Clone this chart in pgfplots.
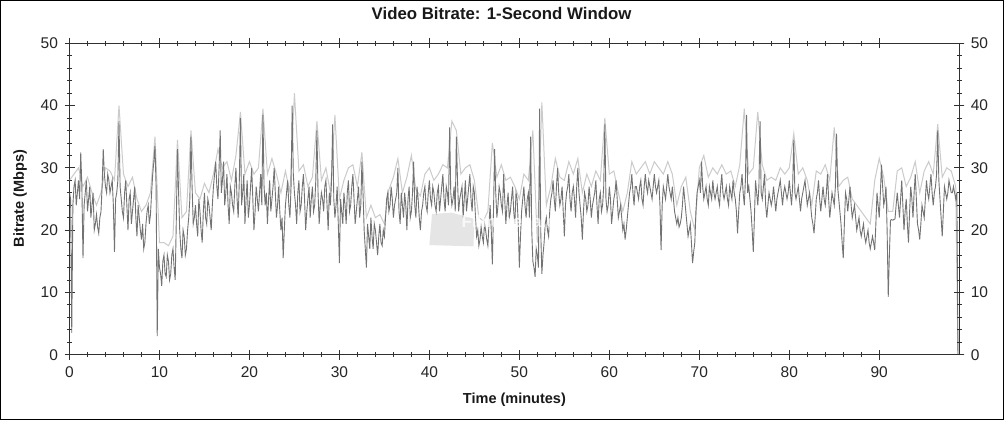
\documentclass[border=0pt]{standalone}
\usepackage{fontspec}
\setmainfont{Liberation Sans}
\usepackage{pgfplots}
\usepackage{pgfplotstable}
\pgfplotsset{compat=1.18}
\definecolor{darkser}{HTML}{737373}
\definecolor{lightser}{HTML}{CBCBCB}
\definecolor{axcol}{HTML}{303030}

\pgfplotstableread[row sep=\\]{
x y\\
0.00 26\\ 0.125 25\\ 0.25 3.5\\ 0.375 24\\ 0.50 27\\ 0.625 28\\ 0.75 24\\ 0.875 26\\ 1.00 28\\ 1.125 25\\ 1.25 32.5\\ 1.375 27\\ 1.50 15.5\\ 1.625 24\\ 1.75 26\\ 1.875 28\\
2.00 23\\ 2.125 25\\ 2.25 27\\ 2.375 22\\ 2.50 24\\ 2.625 26\\ 2.75 20\\ 2.875 21\\ 3.00 22.5\\ 3.125 20.5\\ 3.25 19.5\\ 3.375 22\\ 3.50 23\\ 3.625 27\\ 3.75 33\\ 3.875 29\\
4.00 27\\ 4.125 26\\ 4.25 29\\ 4.375 28\\ 4.50 26\\ 4.625 27\\ 4.75 28\\ 4.875 24\\ 5.00 16.5\\ 5.125 25\\ 5.25 26\\ 5.375 28\\ 5.50 37.5\\ 5.625 27\\ 5.75 25\\ 5.875 23\\
6.00 22\\ 6.125 26\\ 6.25 28\\ 6.375 24\\ 6.50 20\\ 6.625 25\\ 6.75 26\\ 6.875 21\\ 7.00 23\\ 7.125 25\\ 7.25 27\\ 7.375 22\\ 7.50 19\\ 7.625 24\\ 7.75 22\\ 7.875 20\\
8.00 18.5\\ 8.125 21\\ 8.25 17\\ 8.375 18\\ 8.50 21\\ 8.625 23\\ 8.75 24\\ 8.875 21\\ 9.00 22.5\\ 9.125 26\\ 9.25 29\\ 9.375 31\\ 9.50 33.5\\ 9.625 27\\ 9.75 3\\ 9.875 17\\
10.00 14\\ 10.125 13\\ 10.25 11\\ 10.375 15\\ 10.50 16\\ 10.625 13\\ 10.75 12.5\\ 10.875 16\\ 11.00 15\\ 11.125 12\\ 11.25 13\\ 11.375 16\\ 11.50 17\\ 11.625 14\\ 11.75 12\\ 11.875 22\\
12.00 33\\ 12.125 26\\ 12.25 20\\ 12.375 17\\ 12.50 15.5\\ 12.625 20\\ 12.75 19\\ 12.875 16\\ 13.00 17\\ 13.125 20\\ 13.25 22\\ 13.375 25\\ 13.50 35\\ 13.625 27\\ 13.75 21\\ 13.875 22\\
14.00 24\\ 14.125 21\\ 14.25 19\\ 14.375 25\\ 14.50 23\\ 14.625 20\\ 14.75 18\\ 14.875 23\\ 15.00 26\\ 15.125 22\\ 15.25 21\\ 15.375 25\\ 15.50 24\\ 15.625 22\\ 15.75 20\\ 15.875 24\\
16.00 27\\ 16.125 29\\ 16.25 31\\ 16.375 27\\ 16.50 25\\ 16.625 30\\ 16.75 36\\ 16.875 26\\ 17.00 28\\ 17.125 31\\ 17.25 24\\ 17.375 26\\ 17.50 29\\ 17.625 24\\ 17.75 21\\ 17.875 27\\
18.00 26\\ 18.125 24\\ 18.25 23\\ 18.375 27\\ 18.50 30\\ 18.625 25\\ 18.75 22\\ 18.875 28\\ 19.00 38\\ 19.125 24\\ 19.25 26\\ 19.375 29\\ 19.50 21\\ 19.625 25\\ 19.75 28\\ 19.875 22\\
20.00 24\\ 20.125 27\\ 20.25 30\\ 20.375 25\\ 20.50 20\\ 20.625 23\\ 20.75 27\\ 20.875 25\\ 21.00 23\\ 21.125 26\\ 21.25 29\\ 21.375 24\\ 21.50 38.5\\ 21.625 27\\ 21.75 24\\ 21.875 26\\
22.00 21\\ 22.125 25\\ 22.25 28\\ 22.375 23\\ 22.50 25\\ 22.625 27\\ 22.75 30\\ 22.875 26\\ 23.00 22\\ 23.125 24\\ 23.25 27\\ 23.375 23\\ 23.50 20\\ 23.625 22\\ 23.75 15.5\\ 23.875 20\\
24.00 24\\ 24.125 26\\ 24.25 28\\ 24.375 24\\ 24.50 22\\ 24.625 27\\ 24.75 40\\ 24.875 29\\ 25.00 26\\ 25.125 24\\ 25.25 21\\ 25.375 26\\ 25.50 28\\ 25.625 23\\ 25.75 24\\ 25.875 27\\
26.00 29\\ 26.125 25\\ 26.25 20\\ 26.375 23\\ 26.50 25\\ 26.625 27\\ 26.75 22\\ 26.875 25\\ 27.00 27\\ 27.125 23\\ 27.25 24\\ 27.375 28\\ 27.50 36\\ 27.625 26\\ 27.75 21\\ 27.875 24\\
28.00 26\\ 28.125 25\\ 28.25 23\\ 28.375 27\\ 28.50 28\\ 28.625 24\\ 28.75 20\\ 28.875 26\\ 29.00 24\\ 29.125 28\\ 29.25 37\\ 29.375 25\\ 29.50 22\\ 29.625 24\\ 29.75 27\\ 29.875 21\\
30.00 14.7\\ 30.125 25\\ 30.25 23\\ 30.375 21\\ 30.50 26\\ 30.625 24\\ 30.75 21\\ 30.875 26\\ 31.00 28\\ 31.125 23\\ 31.25 24\\ 31.375 27\\ 31.50 29\\ 31.625 25\\ 31.75 21\\ 31.875 23\\
32.00 25\\ 32.125 27\\ 32.25 22\\ 32.375 24\\ 32.50 31\\ 32.625 26\\ 32.75 20\\ 32.875 17\\ 33.00 14\\ 33.125 21\\ 33.25 19\\ 33.375 17\\ 33.50 22\\ 33.625 19\\ 33.75 17\\ 33.875 21\\
34.00 20\\ 34.125 18\\ 34.25 16\\ 34.375 19\\ 34.50 21\\ 34.625 18\\ 34.75 17.5\\ 34.875 20\\ 35.00 19\\ 35.125 22\\ 35.25 25\\ 35.375 26\\ 35.50 23\\ 35.625 24\\ 35.75 27\\ 35.875 25\\
36.00 22\\ 36.125 24\\ 36.25 25\\ 36.375 26\\ 36.50 30\\ 36.625 23\\ 36.75 21\\ 36.875 26\\ 37.00 24\\ 37.125 22\\ 37.25 26\\ 37.375 24\\ 37.50 20\\ 37.625 25\\ 37.75 27\\ 37.875 22\\
38.00 23\\ 38.125 26\\ 38.25 31\\ 38.375 24\\ 38.50 22\\ 38.625 27\\ 38.75 25\\ 38.875 22\\ 39.00 20\\ 39.125 23\\ 39.25 24\\ 39.375 26\\ 39.50 27\\ 39.625 24\\ 39.75 23\\ 39.875 26\\
40.00 28\\ 40.125 25\\ 40.25 24\\ 40.375 27\\ 40.50 26\\ 40.625 24\\ 40.75 23\\ 40.875 26\\ 41.00 27\\ 41.125 23\\ 41.25 25\\ 41.375 27\\ 41.50 29\\ 41.625 25\\ 41.75 23\\ 41.875 27\\
42.00 26\\ 42.125 24\\ 42.25 36.5\\ 42.375 26\\ 42.50 24\\ 42.625 25\\ 42.75 27\\ 42.875 23\\ 43.00 35\\ 43.125 28\\ 43.25 23\\ 43.375 25\\ 43.50 26\\ 43.625 27\\ 43.75 22\\ 43.875 25\\
44.00 28\\ 44.125 23\\ 44.25 25\\ 44.375 27\\ 44.50 29\\ 44.625 25\\ 44.75 23\\ 44.875 27\\ 45.00 26\\ 45.125 22\\ 45.25 19\\ 45.375 20\\ 45.50 17.5\\ 45.625 18.5\\ 45.75 20.5\\ 45.875 19\\
46.00 18\\ 46.125 21\\ 46.25 20\\ 46.375 18.5\\ 46.50 17.5\\ 46.625 21\\ 46.75 24\\ 46.875 20\\ 47.00 14.5\\ 47.125 23\\ 47.25 33\\ 47.375 26\\ 47.50 22\\ 47.625 24\\ 47.75 27\\ 47.875 26\\
48.00 24\\ 48.125 23\\ 48.25 29\\ 48.375 25\\ 48.50 21\\ 48.625 24\\ 48.75 26\\ 48.875 22\\ 49.00 23\\ 49.125 25\\ 49.25 27\\ 49.375 23\\ 49.50 21\\ 49.625 26\\ 49.75 25\\ 49.875 21\\
50.00 14\\ 50.125 19\\ 50.25 23\\ 50.375 25\\ 50.50 27\\ 50.625 24\\ 50.75 22\\ 50.875 25\\ 51.00 26\\ 51.125 22\\ 51.25 35\\ 51.375 20\\ 51.50 15\\ 51.625 14\\ 51.75 12.5\\ 51.875 17\\
52.00 16\\ 52.125 14\\ 52.25 39.5\\ 52.375 20\\ 52.50 13\\ 52.625 16\\ 52.75 18\\ 52.875 21\\ 53.00 22\\ 53.125 20\\ 53.25 19\\ 53.375 23\\ 53.50 25\\ 53.625 26\\ 53.75 28\\ 53.875 25\\
54.00 23\\ 54.125 27\\ 54.25 30\\ 54.375 26\\ 54.50 24\\ 54.625 25\\ 54.75 27\\ 54.875 23\\ 55.00 19\\ 55.125 24\\ 55.25 26\\ 55.375 27\\ 55.50 29\\ 55.625 25\\ 55.75 23\\ 55.875 26\\
56.00 27\\ 56.125 25\\ 56.25 22\\ 56.375 27\\ 56.50 30\\ 56.625 26\\ 56.75 24\\ 56.875 22\\ 57.00 18.5\\ 57.125 23\\ 57.25 26\\ 57.375 25\\ 57.50 23\\ 57.625 24\\ 57.75 27\\ 57.875 25\\
58.00 22\\ 58.125 24\\ 58.25 25\\ 58.375 26\\ 58.50 28\\ 58.625 24\\ 58.75 21\\ 58.875 25\\ 59.00 26\\ 59.125 23\\ 59.25 24\\ 59.375 27\\ 59.50 37\\ 59.625 25\\ 59.75 23\\ 59.875 24\\
60.00 27\\ 60.125 25\\ 60.25 21\\ 60.375 23\\ 60.50 25\\ 60.625 26\\ 60.75 28\\ 60.875 25\\ 61.00 22\\ 61.125 23\\ 61.25 24\\ 61.375 22\\ 61.50 20\\ 61.625 21\\ 61.75 18.5\\ 61.875 20\\
62.00 22\\ 62.125 24\\ 62.25 26\\ 62.375 27\\ 62.50 29\\ 62.625 26\\ 62.75 24\\ 62.875 27\\ 63.00 27\\ 63.125 26\\ 63.25 25\\ 63.375 27\\ 63.50 28\\ 63.625 25\\ 63.75 24\\ 63.875 27\\
64.00 29\\ 64.125 27\\ 64.25 26\\ 64.375 28\\ 64.50 27\\ 64.625 26\\ 64.75 25\\ 64.875 27\\ 65.00 29\\ 65.125 27\\ 65.25 26\\ 65.375 27\\ 65.50 28\\ 65.625 24\\ 65.75 16.8\\ 65.875 24\\
66.00 27\\ 66.125 26\\ 66.25 25\\ 66.375 27\\ 66.50 29\\ 66.625 27\\ 66.75 26\\ 66.875 25\\ 67.00 27\\ 67.125 25\\ 67.25 23\\ 67.375 22\\ 67.50 21\\ 67.625 22\\ 67.75 20.5\\ 67.875 21\\
68.00 22\\ 68.125 24\\ 68.25 27\\ 68.375 25\\ 68.50 23\\ 68.625 21\\ 68.75 19\\ 68.875 20\\ 69.00 21\\ 69.125 18\\ 69.25 14.7\\ 69.375 16.5\\ 69.50 18\\ 69.625 23\\ 69.75 26\\ 69.875 27\\
70.00 28\\ 70.125 26\\ 70.25 31\\ 70.375 27\\ 70.50 25\\ 70.625 26\\ 70.75 27\\ 70.875 25\\ 71.00 24\\ 71.125 27\\ 71.25 26\\ 71.375 25\\ 71.50 28\\ 71.625 26\\ 71.75 25\\ 71.875 26\\
72.00 27\\ 72.125 25\\ 72.25 24\\ 72.375 27\\ 72.50 29\\ 72.625 26\\ 72.75 25\\ 72.875 26\\ 73.00 27\\ 73.125 25\\ 73.25 24\\ 73.375 27\\ 73.50 26\\ 73.625 25\\ 73.75 28\\ 73.875 26\\
74.00 25\\ 74.125 23\\ 74.25 19.5\\ 74.375 23\\ 74.50 26\\ 74.625 27\\ 74.75 29\\ 74.875 26\\ 75.00 24\\ 75.125 28\\ 75.25 38.5\\ 75.375 26\\ 75.50 27\\ 75.625 25\\ 75.75 23\\ 75.875 20\\
76.00 16.5\\ 76.125 22\\ 76.25 28\\ 76.375 26\\ 76.50 24\\ 76.625 27\\ 76.75 37.5\\ 76.875 26\\ 77.00 25\\ 77.125 27\\ 77.25 29\\ 77.375 24\\ 77.50 22\\ 77.625 24\\ 77.75 26\\ 77.875 25\\
78.00 24\\ 78.125 25\\ 78.25 27\\ 78.375 25\\ 78.50 23\\ 78.625 25\\ 78.75 26\\ 78.875 27\\ 79.00 28\\ 79.125 26\\ 79.25 24\\ 79.375 26\\ 79.50 27\\ 79.625 26\\ 79.75 25\\ 79.875 26\\
80.00 28\\ 80.125 26\\ 80.25 24\\ 80.375 27\\ 80.50 34.5\\ 80.625 26\\ 80.75 25\\ 80.875 26\\ 81.00 27\\ 81.125 25\\ 81.25 23\\ 81.375 25\\ 81.50 26\\ 81.625 27\\ 81.75 28\\ 81.875 26\\
82.00 24\\ 82.125 25\\ 82.25 26\\ 82.375 24\\ 82.50 22\\ 82.625 21\\ 82.75 19.5\\ 82.875 22\\ 83.00 25\\ 83.125 26\\ 83.25 28\\ 83.375 25\\ 83.50 23\\ 83.625 25\\ 83.75 27\\ 83.875 25\\
84.00 24\\ 84.125 26\\ 84.25 29\\ 84.375 25\\ 84.50 22\\ 84.625 24\\ 84.75 26\\ 84.875 25\\ 85.00 24\\ 85.125 27\\ 85.25 35.5\\ 85.375 27\\ 85.50 25\\ 85.625 23\\ 85.75 21\\ 85.875 18\\
86.00 15.5\\ 86.125 21\\ 86.25 26\\ 86.375 25\\ 86.50 23\\ 86.625 25\\ 86.75 27\\ 86.875 24\\ 87.00 22\\ 87.125 23\\ 87.25 24\\ 87.375 22\\ 87.50 20\\ 87.625 21\\ 87.75 22\\ 87.875 20\\
88.00 19\\ 88.125 20\\ 88.25 21\\ 88.375 19\\ 88.50 18\\ 88.625 19\\ 88.75 20\\ 88.875 18\\ 89.00 17\\ 89.125 18\\ 89.25 19\\ 89.375 18\\ 89.50 16.8\\ 89.625 21\\ 89.75 26\\ 89.875 24\\
90.00 22\\ 90.125 26\\ 90.25 30.5\\ 90.375 27\\ 90.50 24\\ 90.625 25\\ 90.75 27\\ 90.875 20\\ 91.00 9.3\\ 91.125 16\\ 91.25 21.6\\ 91.375 21.7\\ 91.50 21.6\\ 91.625 21.7\\ 91.75 21.8\\ 91.875 24\\
92.00 26\\ 92.125 24\\ 92.25 22\\ 92.375 25\\ 92.50 28\\ 92.625 24\\ 92.75 20\\ 92.875 23\\ 93.00 25\\ 93.125 21\\ 93.25 18\\ 93.375 23\\ 93.50 27\\ 93.625 25\\ 93.75 22\\ 93.875 26\\
94.00 29\\ 94.125 25\\ 94.25 21\\ 94.375 20\\ 94.50 18.5\\ 94.625 21\\ 94.75 24\\ 94.875 23\\ 95.00 22\\ 95.125 25\\ 95.25 28\\ 95.375 26\\ 95.50 25\\ 95.625 27\\ 95.75 29\\ 95.875 26\\
96.00 24\\ 96.125 26\\ 96.25 27\\ 96.375 29\\ 96.50 36\\ 96.625 28\\ 96.75 25\\ 96.875 22\\ 97.00 19\\ 97.125 23\\ 97.25 27\\ 97.375 26\\ 97.50 25\\ 97.625 26\\ 97.75 28\\ 97.875 27\\
98.00 26\\ 98.125 26\\ 98.25 27\\ 98.375 26\\ 98.50 25\\ 98.625 26\\ 98.75 0\\
}\darkdata

\pgfplotstableread[row sep=\\]{
x y\\
0 28\\ 0.5 29\\ 1 30\\ 1.5 27\\ 2 28.5\\ 2.5 26\\ 3 24\\ 3.5 26\\ 4 30\\ 4.5 29.5\\
5 28\\ 5.5 40\\ 6 29\\ 6.5 27\\ 7 28.5\\ 7.5 25\\ 8 23\\ 8.5 24\\ 9 26\\ 9.5 35\\
10 18\\ 10.5 18\\ 11 17.5\\ 11.5 19\\ 12 34.5\\ 12.5 22\\ 13 23\\ 13.5 36\\ 14 26\\ 14.5 25\\
15 27.5\\ 15.5 26\\ 16 29\\ 16.5 33\\ 17 30\\ 17.5 31\\ 18 28\\ 18.5 32\\ 19 39\\ 19.5 29\\
20 31\\ 20.5 29\\ 21 30\\ 21.5 39.5\\ 22 29\\ 22.5 31.5\\ 23 29\\ 23.5 26\\ 24 29.5\\ 24.5 26\\
25 42\\ 25.5 29.5\\ 26 30.5\\ 26.5 27\\ 27 28.5\\ 27.5 37.5\\ 28 28\\ 28.5 30\\ 29 26\\ 29.5 38.5\\
30 25\\ 30.5 28\\ 31 30\\ 31.5 30.5\\ 32 27\\ 32.5 32.5\\ 33 22\\ 33.5 24\\ 34 22\\ 34.5 22.5\\
35 21\\ 35.5 26.5\\ 36 28.5\\ 36.5 31.5\\ 37 26\\ 37.5 28.5\\ 38 32\\ 38.5 26.5\\ 39 25.5\\ 39.5 29\\
40 30\\ 40.5 28\\ 41 29\\ 41.5 30.5\\ 42 30\\ 42.5 37.5\\ 43 36\\ 43.5 29\\ 44 30\\ 44.5 30.5\\
45 28\\ 45.5 22\\ 46 21.5\\ 46.5 23\\ 47 34\\ 47.5 28.5\\ 48 30.5\\ 48.5 28\\ 49 28.5\\ 49.5 27\\
50 25\\ 50.5 29\\ 51 28\\ 51.5 36\\ 52 18\\ 52.5 40.5\\ 53 24\\ 53.5 27\\ 54 31.5\\ 54.5 28.5\\
55 28\\ 55.5 31\\ 56 29\\ 56.5 31.5\\ 57 26\\ 57.5 29\\ 58 27\\ 58.5 29.5\\ 59 28\\ 59.5 38\\
60 29\\ 60.5 29.5\\ 61 26\\ 61.5 23\\ 62 26\\ 62.5 31\\ 63 29\\ 63.5 30\\ 64 31\\ 64.5 29\\
65 31\\ 65.5 30\\ 66 29\\ 66.5 31\\ 67 29\\ 67.5 24\\ 68 27\\ 68.5 28.5\\ 69 23\\ 69.5 20\\
70 30\\ 70.5 32\\ 71 28.5\\ 71.5 30\\ 72 29\\ 72.5 30.5\\ 73 29\\ 73.5 29.5\\ 74 27\\ 74.5 30.5\\
75 39.5\\ 75.5 29\\ 76 30\\ 76.5 39\\ 77 30.5\\ 77.5 28\\ 78 28.5\\ 78.5 28\\ 79 30\\ 79.5 29\\
80 30\\ 80.5 35.5\\ 81 29\\ 81.5 30\\ 82 28\\ 82.5 24\\ 83 29.5\\ 83.5 29\\ 84 30.5\\ 84.5 28\\
85 36.5\\ 85.5 27\\ 86 28\\ 86.5 28.5\\ 87 25\\ 87.5 24\\ 88 23\\ 88.5 22\\ 89 21\\ 89.5 28\\
90 31.5\\ 90.5 28.5\\ 91 23\\ 91.5 23\\ 92 29.5\\ 92.5 30\\ 93 27\\ 93.5 28.5\\ 94 31\\ 94.5 26\\
95 29.5\\ 95.5 31\\ 96 29\\ 96.5 37\\ 97 28.5\\ 97.5 30\\ 98 29.5\\ 98.5 27\\ 98.75 0\\
}\lightdata

\begin{document}
\begin{tikzpicture}[x=1bp,y=1bp]
\useasboundingbox (0,0) rectangle (1004,420);
\fill[white] (0,0) rectangle (1004,420);
\draw[black, line width=1.5bp] (0.75,0.75) rectangle (1003.25,419.25);
\pgfplotsset{
  commonax/.style={
    at={(69.5bp,65.3bp)}, anchor=south west,
    scale only axis, width=889.8bp, height=311.4bp,
    xmin=0, xmax=98.9, ymin=0, ymax=50,
    ytick={0,10,...,50}, minor y tick num=4,
    tick align=center, major tick length=10bp, minor tick length=5bp,
    every tick/.style={axcol, line width=0.8bp},
    axis line style={axcol, line width=0.9bp},
    /pgf/number format/assume math mode=true,
    ticklabel style={font=\fontsize{15.5bp}{17bp}\selectfont, text=black!85},
  }
}
\begin{axis}[commonax,
  xtick={0,10,...,90}, minor x tick num=4,
  yticklabel style={xshift=-3bp},
  xticklabel style={yshift=-3bp},
  title={Video Bitrate: 1-Second Window},
  title style={at={(axis description cs:0.4855,1.075)}, anchor=center, font=\bfseries\fontsize{16.8bp}{18bp}\selectfont, text=black!90},
  xlabel={Time (minutes)},
  xlabel style={at={(axis description cs:0.5,-0.145)}, anchor=center, font=\bfseries\fontsize{14.5bp}{16bp}\selectfont, text=black!90},
  ylabel={Bitrate (Mbps)},
  ylabel style={at={(axis description cs:-0.0556,0.5016)}, anchor=center, font=\bfseries\fontsize{14.5bp}{16bp}\selectfont, text=black!90},
]
\fill[gray!20] (axis cs:40.0,17.6) -- (axis cs:44.9,17.4) -- (axis cs:45.0,21.8) -- (axis cs:42.5,22.8) -- (axis cs:40.3,22.6) -- cycle;
\addplot[lightser, line width=1bp, no markers] table[x=x,y=y] {\lightdata};
\addplot[darkser, line width=0.9bp, no markers] table[x=x,y=y] {\darkdata};
\node[text=white, opacity=0.75, font=\bfseries\fontsize{17bp}{18bp}\selectfont] at (axis cs:49.3,21.4) {Filmarena.cz};
\end{axis}
\begin{axis}[commonax,
  hide x axis, axis y line*=right,
  yticklabel style={xshift=3bp},
]
\end{axis}
\end{tikzpicture}
\end{document}
